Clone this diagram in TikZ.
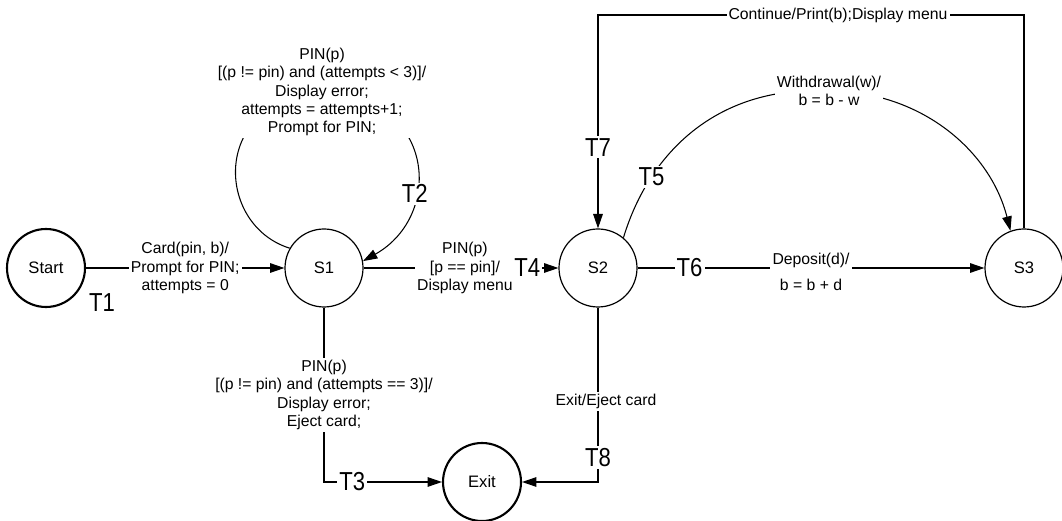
\documentclass[tikz,border=0pt]{standalone}
\usepackage{fontspec}
\setmainfont{Liberation Sans}
\newfontfamily\tfamily[FakeStretch=0.85]{Liberation Sans}
\usetikzlibrary{arrows.meta,positioning}

\begin{document}
\begin{tikzpicture}[
    x=0.25mm, y=-0.25mm,
    state/.style={draw, circle, minimum size=19.5mm, inner sep=0pt, line width=0.85pt,
      font=\fontsize{11.8}{14}\selectfont},
    endstate/.style={state, line width=1.5pt},
    lbl/.style={fill=white, align=center, inner sep=1.5pt,
      font=\fontsize{11.2}{13.1}\selectfont},
    tlbl/.style={fill=white, inner sep=1.5pt, font=\tfamily\fontsize{18.5}{20}\selectfont},
    arrow/.style={-{Triangle[length=3.6mm,width=2.4mm]}, line width=0.75pt}
  ]
    \useasboundingbox (0,0) rectangle (1062,521);

    \node[endstate] (start) at (46,268) {Start};
    \node[state] (s1) at (324,268) {S1};
    \node[state] (s2) at (598,268) {S2};
    \node[state] (s3) at (1024,268) {S3};
    \node[endstate] (exit) at (482,482) {Exit};
    \coordinate (top) at (838,15);

    \draw[arrow] (start) -- node[lbl] {Card(pin, b)/\\Prompt for PIN;\\attempts = 0} (s1);
    \node[tlbl, inner sep=0pt] (t1) at (102,303) {T1};

    \draw[arrow] (s1.150) .. controls (215,225) and (210,100) .. (322,92)
      node[lbl] (t2lbl) {PIN(p)\\{[}(p != pin) and (attempts < 3){]}/\\Display error;\\attempts = attempts+1;\\Prompt for PIN;}
      .. controls (435,95) and (445,215) .. (s1.10) node[tlbl, pos=0.65] {T2};

    \draw[arrow] (s1) |- node[lbl, pos=0.25] {PIN(p)\\{[}(p != pin) and (attempts == 3){]}/\\Display error;\\Eject card;}
      node[tlbl, pos=0.62] {T3} (exit);

    \draw[arrow] (s1) -- node[lbl, pos=0.52] {PIN(p)\\{[}p == pin{]}/\\Display menu}
      node[tlbl, pos=0.84] {T4} (s2);

    \draw[arrow] (s2.50) .. controls (650,150) and (720,85) .. (829,91)
      node[tlbl, pos=0.25] {T5} node[lbl] (t5lbl) {Withdrawal(w)/\\b = b - w}
      .. controls (920,91) and (990,150) .. (s3.110);

    \draw[arrow] (s2) -- node[tlbl, pos=0.15] {T6}
      node[lbl, yshift=-1mm] {Deposit(d)/\\[5pt]b = b + d} (s3);

    \draw[arrow] (s3) |- (top) node[lbl] {Continue/Print(b);Display menu}
      -| node[tlbl, pos=0.81] {T7} (s2);

    \draw[arrow] (s2) |- node[lbl, pos=0.27, xshift=2mm] {Exit/Eject card}
      node[tlbl, pos=0.43] {T8} (exit);
  \end{tikzpicture}
\end{document}
